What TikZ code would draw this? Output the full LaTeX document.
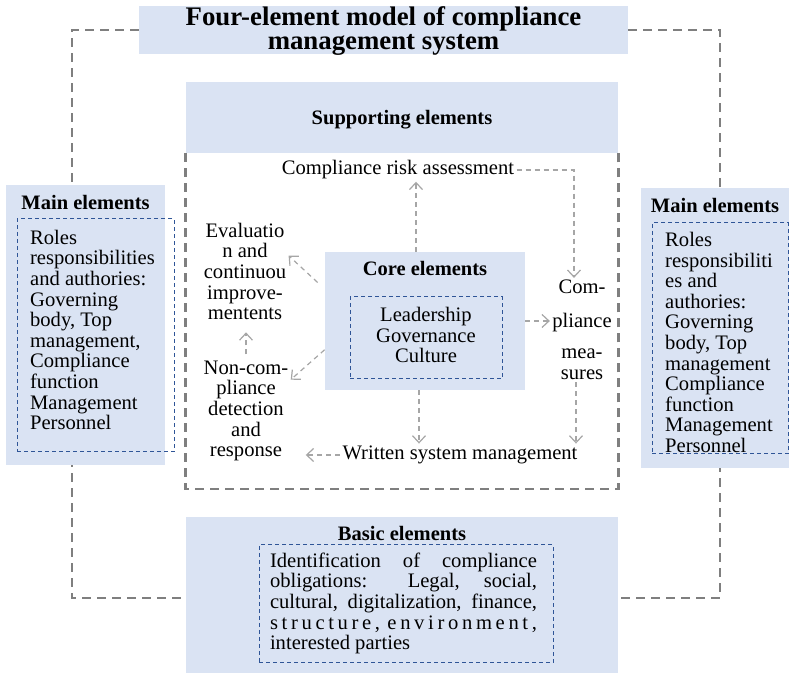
\documentclass[tikz,border=0pt]{standalone}
\usepackage{fontspec}
\setmainfont{Liberation Serif}
\usetikzlibrary{positioning,arrows.meta,backgrounds}
\definecolor{boxblue}{HTML}{DAE3F3}
\definecolor{lineblue}{HTML}{2F5597}
\definecolor{framegray}{HTML}{7F7F7F}
\definecolor{flowgray}{HTML}{A6A6A6}
\tikzset{node distance=4pt,
  panel/.style={fill=boxblue, inner sep=0pt},
  head/.style={font=\bfseries\fontsize{10.25}{10.25}\selectfont, inner sep=1pt},
  txt/.style={font=\fontsize{10.3}{10.3}\selectfont, align=center, inner sep=1pt},
  list/.style={font=\fontsize{10.3}{10.3}\selectfont, align=left, inner sep=1pt},
  inbox/.style={draw=lineblue, line width=0.5pt, dash pattern=on 2pt off 1.5pt, inner sep=0pt},
  frame/.style={draw=framegray, line width=1.3pt, dash pattern=on 4.5pt off 3pt},
  flow/.style={draw=flowgray, line width=0.6pt, dash pattern=on 2.5pt off 2pt, -{Straight Barb[length=3.5pt,width=6.5pt]}}}

\begin{document}
\begin{tikzpicture}[x=0.5pt, y=-0.5pt]
\useasboundingbox (0,0) rectangle (789,673);

% panels
\node[panel, minimum width=244.5pt, minimum height=24pt] (title) at (383.5,30) {};
\node[align=center, inner sep=0pt, font=\bfseries\fontsize{13.4}{12.4}\selectfont]
  (titletext) at (383.5,31) {Four-element model of compliance\\management system};
\node[panel, minimum width=216pt, minimum height=35.5pt] (support) at (402,117.5) {};
\node[head] (supporthead) at (402,119.5) {Supporting elements};
\node[panel, minimum width=79.5pt, minimum height=140pt] (mainl) at (85.5,325) {};
\node[panel, minimum width=74pt, minimum height=140pt] (mainr) at (715,328) {};
\node[panel, minimum width=100pt, minimum height=69pt] (core) at (425,321) {};
\node[panel, minimum width=216pt, minimum height=78pt] (basic) at (402,595) {};

\node[head] (mainlhead) [below=of mainl.north] {Main elements};
\node[head] (mainrhead) [below=of mainr.north] {Main elements};
\node[head] (corehead) [below=3.5pt of core.north] {Core elements};
\node[head] (basichead) [below=3.5pt of basic.north] {Basic elements};

% dashed blue boxes
\node[inbox, minimum width=78.5pt, minimum height=116.5pt] (mainlbox) at (95.5,335.5) {};
\node[inbox, minimum width=68pt, minimum height=115.5pt] (mainrbox) at (720,338.5) {};
\node[inbox, minimum width=76pt, minimum height=41pt] (corebox) at (426,338) {};
\node[inbox, minimum width=147pt, minimum height=59pt] (basicbox) at (406,604) {};

\node[txt] (coretext) at (426,335) {Leadership\\Governance\\Culture};
\node[list] (mainltext) at (92.5,330) {Roles\\responsibilities\\and authories:\\Governing\\body, Top\\management,\\Compliance\\function\\Management\\Personnel};
\node[list] (mainrtext) at (719,342.5) {Roles\\responsibiliti\\es and\\authories:\\Governing\\body, Top\\management\\Compliance\\function\\Management\\Personnel};
\node[list] (basictext) at (403.5,603.5) {\makebox[133.5pt][s]{Identification of compliance}\\
  \makebox[133.5pt][s]{obligations:\ \ Legal, social,}\\
  \makebox[133.5pt][s]{cultural, digitalization, finance,}\\
  \makebox[133.5pt][s]{s t r u c t u r e ,\ \ e n v i r o n m e n t ,}\\
  interested parties};

% supporting elements
\node[txt] (risk) at (398,170) {Compliance risk assessment};
\node[txt] (evaluation) at (245,271.5) {Evaluatio\\n and\\continuou\\improve-\\mentents};
\node[txt] (noncomp) at (246,411) {Non-com-\\pliance\\detection\\and\\response};
\node[txt] (measures) at (582,330) {Com-\\[6.7pt]pliance\\[5.2pt]mea-\\sures};
\node[txt] (written) at (460,455) {Written system management};

\coordinate (cornerl) at (72,598);
\coordinate (cornerr) at (720,598);
\coordinate (suppbot) at (402,489);

\begin{scope}[on background layer]
  \draw[frame] (title.west) -| (cornerl) -- (cornerl -| basic.west);
  \draw[frame] (title.east) -| (cornerr) -- (cornerr -| basic.east);
  \draw[frame] (support.south west) |- (suppbot) -| (support.south east);
\end{scope}

\draw[flow] ([xshift=-4.5]core.north) -- ([xshift=-4.5]core.north |- risk.south);
\draw[flow] (risk.east) -| ([xshift=-4]measures.north);
\draw[flow] (core.east) -- (core.east -| measures.west);
\draw[flow] ([xshift=-3]measures.south) -- ([xshift=-3]measures.south |- written.north);
\draw[flow] ([xshift=-3]core.south) -- ([xshift=-3]core.south |- written.north);
\draw[flow] (written.west) -- ([xshift=7.5]written.west -| noncomp.east);
\draw[flow] ([xshift=-3.5]core.159) -- (evaluation.20);
\draw[flow] (core.196) -- (noncomp.35);
\draw[flow, shorten >=5pt, shorten <=2pt] (noncomp.north) -- (noncomp.north |- evaluation.south);
\end{tikzpicture}
\end{document}
